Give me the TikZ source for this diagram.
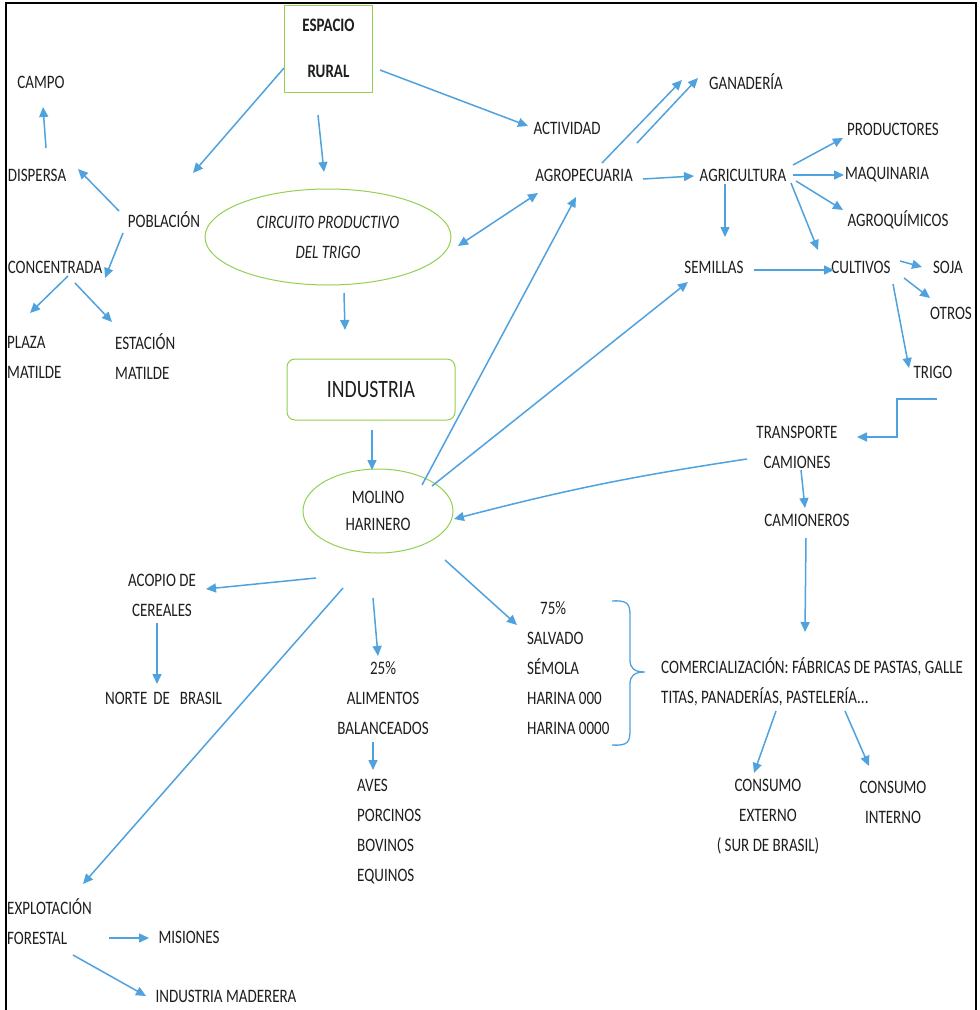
\documentclass[tikz,border=0pt]{standalone}
\usepackage{fontspec}
\setmainfont{Carlito}[FakeStretch=0.79]
\usetikzlibrary{arrows.meta,shapes.geometric}
\definecolor{arrblue}{RGB}{80,162,222}
\definecolor{boxgreen}{RGB}{146,208,80}
\definecolor{textc}{RGB}{30,30,30}
\begin{document}
\begin{tikzpicture}[x=1pt,y=-1pt,
  lbl/.style={inner sep=0pt, text=textc, font=\fontsize{19}{30}\selectfont},
  gbox/.style={lbl, draw=boxgreen, line width=1pt, align=center},
  gell/.style={lbl, draw=boxgreen, line width=1pt, ellipse, align=center},
  arr/.style={draw=arrblue, line width=1.5pt, -{Triangle[length=10pt,width=9pt]}},
  darr/.style={draw=arrblue, line width=1.5pt, {Triangle[length=10pt,width=9pt]}-{Triangle[length=10pt,width=9pt]}},
  bracestyle/.style={draw=arrblue, line width=1.3pt}]
\useasboundingbox (0,0) rectangle (980,1010);
\fill[white] (0,0) rectangle (980,1010);
% frame
\draw[line width=2.5pt, black] (6,1012) -- (6,3) -- (976,3) -- (976,1012);

% left / top nodes
\node[gbox, minimum width=88pt, minimum height=87pt] (esp) at (328.5,48.5) {\bfseries ESPACIO\\[16pt]\bfseries RURAL};
\node[lbl] (campo) at (41,82) {CAMPO};
\node[lbl] (disp) at (37,175) {DISPERSA};
\node[lbl] (pob) at (164,220) {POBLACIÓN};
\node[lbl] (conc) at (55,267) {CONCENTRADA};
\node[lbl, align=left, anchor=west] (plaza) at (7,357) {PLAZA\\MATILDE};
\node[lbl, align=left, anchor=west] (estac) at (115,357) {ESTACIÓN\\MATILDE};
\node[gell, minimum width=246pt, minimum height=96pt, font=\fontsize{19}{30}\selectfont\itshape] (circ) at (328,237) {CIRCUITO PRODUCTIVO\\DEL TRIGO};
\node[gbox, rounded corners=8pt, minimum width=168pt, minimum height=61pt, font=\fontsize{25}{28}\selectfont] (ind) at (371,389.5) {INDUSTRIA};
\node[gell, minimum width=150pt, minimum height=84pt] (mol) at (378,511) {MOLINO\\[-3pt]HARINERO};
\node[lbl, align=center] (acopio) at (162,595) {ACOPIO DE\\CEREALES};
\node[lbl] (norte) at (163.5,698) {NORTE\hspace{6pt}DE\hspace{10pt}BRASIL};
\node[lbl, align=center] (alim) at (383,698) {25\%\\ALIMENTOS\\BALANCEADOS};
\node[lbl, align=left, anchor=west] (aves) at (357,832) {AVES\\PORCINOS\\BOVINOS\\EQUINOS};
\node[lbl, align=left, anchor=west] (pct) at (527,668) {\hspace{13pt}75\%\\SALVADO\\SÉMOLA\\HARINA 000\\HARINA 0000};
\node[lbl, align=left, anchor=west] (expl) at (7,922) {EXPLOTACIÓN\\FORESTAL};
\node[lbl] (mis) at (189,937) {MISIONES};
\node[lbl] (indmad) at (226,996) {INDUSTRIA MADERERA};

% right nodes
\node[lbl] (act) at (567,128) {ACTIVIDAD};
\node[lbl] (agrop) at (584,175) {AGROPECUARIA};
\node[lbl] (gan) at (746,82) {GANADERÍA};
\node[lbl] (agri) at (743,175) {AGRICULTURA};
\node[lbl] (prod) at (893,129) {PRODUCTORES};
\node[lbl] (maq) at (887,175) {MAQUINARIA};
\node[lbl] (agroq) at (898,220) {AGROQUÍMICOS};
\node[lbl] (sem) at (714,267) {SEMILLAS};
\node[lbl] (cult) at (861,267) {CULTIVOS};
\node[lbl] (soja) at (948,267) {SOJA};
\node[lbl] (otros) at (951,313) {OTROS};
\node[lbl] (trigo) at (933,372) {TRIGO};
\node[lbl, align=center] (trans) at (797,447) {TRANSPORTE\\CAMIONES};
\node[lbl] (camn) at (807,520) {CAMIONEROS};
\node[lbl, align=left, anchor=west] (com) at (661,682) {COMERCIALIZACIÓN: FÁBRICAS DE PASTAS, GALLE\\TITAS, PANADERÍAS, PASTELERÍA...};
\node[lbl, align=center] (cext) at (768,817) {CONSUMO\\EXTERNO\\( SUR DE BRASIL)};
\node[lbl, align=center] (cint) at (893,802) {CONSUMO\\INTERNO};

% brace
\draw[bracestyle] (612,601) .. controls (628,600) and (630,604) .. (630,616)
  -- (630,660) .. controls (630,668) and (634,672) .. (645,672)
  .. controls (634,672) and (630,676) .. (630,684)
  -- (630,730) .. controls (630,742) and (628,746) .. (612,745);

% connectors
\draw[arr] ([shift={(-44.5,19.5)}]esp.center) -- ([shift={(29,-47)}]pob.center);
\draw[arr] ([shift={(-10.5,66.5)}]esp.center) -- ([shift={(-4,-65)}]circ.center);
\draw[arr] ([shift={(51.5,21.5)}]esp.center) -- ([shift={(-39,-2)}]act.center);
\draw[arr] ([shift={(-45,-9)}]pob.center) -- ([shift={(41,-6)}]disp.center);
\draw[arr] ([shift={(9,-27)}]disp.center) -- ([shift={(2,25)}]campo.center);
\draw[arr] ([shift={(-41,13)}]pob.center) -- ([shift={(50,11)}]conc.center);
\draw[arr] ([shift={(13,9)}]conc.center) -- ([shift={(23,-44)}]plaza.west);
\draw[arr] ([shift={(20,16)}]conc.center) -- ([shift={(-3,-35)}]estac.west);
\draw[arr] ([shift={(16,56)}]circ.center) -- ([shift={(-26,-59.5)}]ind.center);
\draw[arr] ([shift={(1,40.5)}]ind.center) -- ([shift={(-6,-41)}]mol.center);
\draw[darr] ([shift={(130,9)}]circ.center) -- ([shift={(-46,18)}]agrop.center);
\draw[arr] ([shift={(44,-26)}]mol.center) -- ([shift={(-8,22)}]agrop.center);
\draw[arr] ([shift={(54,-25)}]mol.center) -- ([shift={(-26,15)}]sem.center);
\draw[arr] ([shift={(18,-12)}]agrop.center) -- ([shift={(-64,-2)}]gan.center);
\draw[arr] ([shift={(53,-32)}]agrop.center) -- ([shift={(-48,-4)}]gan.center);
\draw[arr] ([shift={(59,4)}]agrop.center) -- ([shift={(-49,1)}]agri.center);
\draw[arr] ([shift={(50,-10)}]agri.center) -- ([shift={(-50,9)}]prod.center);
\draw[arr] ([shift={(50,0)}]agri.center) -- ([shift={(-43,0)}]maq.center);
\draw[arr] ([shift={(53,6)}]agri.center) -- ([shift={(-55,-10)}]agroq.center);
\draw[arr] ([shift={(48,8)}]agri.center) -- ([shift={(-43,-17)}]cult.center);
\draw[arr] ([shift={(-18,9)}]agri.center) -- ([shift={(11,-30)}]sem.center);
\draw[arr] ([shift={(40,3)}]sem.center) -- ([shift={(-27,3)}]cult.center);
\draw[arr] ([shift={(39,-6)}]cult.center) -- ([shift={(-26,0)}]soja.center);
\draw[arr] ([shift={(43,11)}]cult.center) -- ([shift={(-21,-15)}]otros.center);
\draw[arr] ([shift={(32,17)}]cult.center) -- ([shift={(-24,-4)}]trigo.center);
\draw[arr] ([shift={(4,27)}]trigo.center) -- ++(-40,0) |- ([shift={(60,-10)}]trans.center);
\draw[arr] ([shift={(-50,12)}]trans.center) to[bend right=3] ([shift={(76,8)}]mol.center);
\draw[arr] ([shift={(4,23)}]trans.center) -- ([shift={(-2,-12)}]camn.center);
\draw[arr] ([shift={(-1,18)}]camn.center) -- ([shift={(144,-50)}]com.west);
\draw[arr] ([shift={(67,49)}]mol.center) -- ([shift={(-10,-43)}]pct.west);
\draw[arr] ([shift={(-5,87)}]mol.center) -- ([shift={(-5,-42)}]alim.center);
\draw[arr] ([shift={(-62,67)}]mol.center) -- ([shift={(44,-6)}]acopio.center);
\draw[arr] ([shift={(-5,28)}]acopio.center) -- ([shift={(-6.5,-14)}]norte.center);
\draw[arr] ([shift={(-35,77)}]mol.center) -- ([shift={(76,-38)}]expl.west);
\draw[arr] ([shift={(-10,44)}]alim.center) -- ([shift={(16,-62)}]aves.west);
\draw[arr] ([shift={(102,16)}]expl.west) -- ([shift={(-40,1)}]mis.center);
\draw[arr] ([shift={(66,33)}]expl.west) -- ([shift={(-80,0)}]indmad.center);
\draw[arr] ([shift={(115,29)}]com.west) -- ([shift={(-14,-44)}]cext.center);
\draw[arr] ([shift={(184,29)}]com.west) -- ([shift={(-24,-36)}]cint.center);
\end{tikzpicture}
\end{document}
